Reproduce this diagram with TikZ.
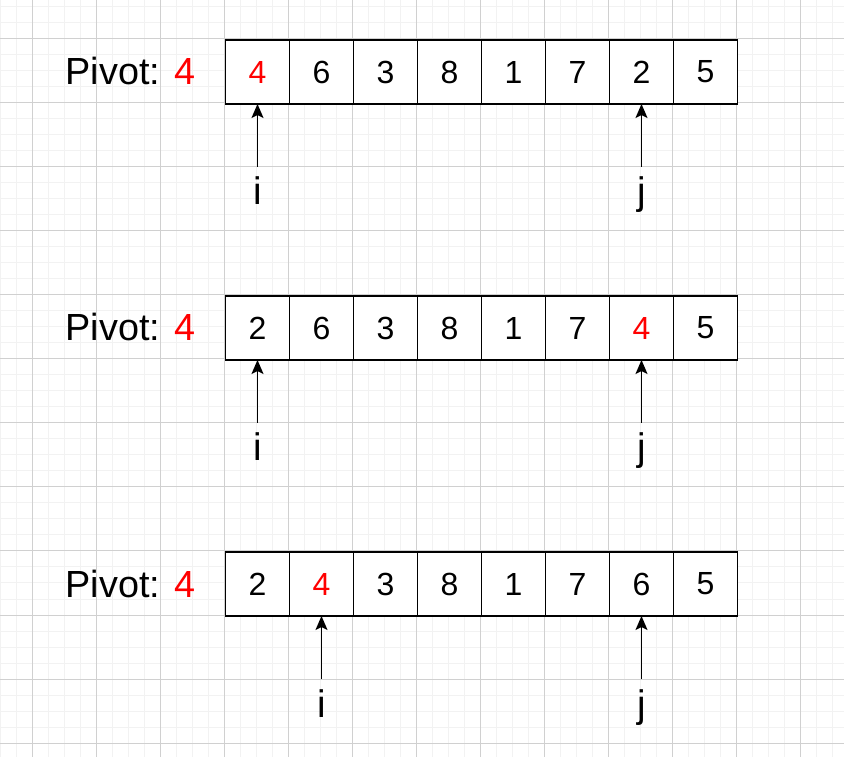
\documentclass[tikz,border=0pt]{standalone}
\usepackage{fontspec}
\setmainfont{Liberation Sans}
\usepackage{tikz}
\usetikzlibrary{arrows.meta}
\usetikzlibrary{positioning}
\definecolor{pivotred}{HTML}{FF0000}
\definecolor{gridmajor}{HTML}{D0D0D0}
\definecolor{gridminor}{HTML}{F2F2F2}
\tikzset{
  arraycell/.style={draw, line width=1.6pt, fill=white, minimum size=64pt, inner sep=0pt, outer sep=0pt, font=\fontsize{32}{38}\selectfont},
  pivotcell/.style={arraycell, text=pivotred},
  pivotlabel/.style={anchor=base west, inner sep=0pt, font=\fontsize{37.8}{46}\selectfont},
  ptrlabel/.style={anchor=base, inner sep=0pt, text height=38pt, font=\fontsize{38.4}{46}\selectfont},
  ptrarrow/.style={-{Stealth[length=14pt, width=12pt, inset=3pt]}, line width=1.6pt}
}

\begin{document}
\begin{tikzpicture}[x=1pt, y=1pt]
  \useasboundingbox (0,0) rectangle (844,756);
  \fill[white] (0,0) rectangle (844,756);
  \begin{scope}
    \clip (0,0) rectangle (844,756);
    \draw[gridminor, line width=1pt, step=16pt, shift={(0,13)}] (-16,-16) grid (860,760);
    \draw[gridmajor, line width=1pt, step=64pt, shift={(32,13)}] (-64,-64) grid (860,760);
  \end{scope}

  % first row
  \node[pivotlabel] (p1) at (65.5,671) {Pivot: \textcolor{pivotred}{4}};
  \node[pivotcell] (a1) at (257.5,684) {4};
  \node[arraycell, right=0pt of a1] (a2) {6};
  \node[arraycell, right=0pt of a2] (a3) {3};
  \node[arraycell, right=0pt of a3] (a4) {8};
  \node[arraycell, right=0pt of a4] (a5) {1};
  \node[arraycell, right=0pt of a5] (a6) {7};
  \node[arraycell, right=0pt of a6] (a7) {2};
  \node[arraycell, right=0pt of a7] (a8) {5};
  \node[ptrlabel] (i1) at (257.5,551) {i};
  \node[ptrlabel] (j1) at (641.5,551) {j};
  \draw[ptrarrow] (i1.north) -- (a1.south);
  \draw[ptrarrow] (j1.north) -- (a7.south);

  % second row
  \node[pivotlabel] (p2) at (65.5,415) {Pivot: \textcolor{pivotred}{4}};
  \node[arraycell] (b1) at (257.5,428) {2};
  \node[arraycell, right=0pt of b1] (b2) {6};
  \node[arraycell, right=0pt of b2] (b3) {3};
  \node[arraycell, right=0pt of b3] (b4) {8};
  \node[arraycell, right=0pt of b4] (b5) {1};
  \node[arraycell, right=0pt of b5] (b6) {7};
  \node[pivotcell, right=0pt of b6] (b7) {4};
  \node[arraycell, right=0pt of b7] (b8) {5};
  \node[ptrlabel] (i2) at (257.5,295) {i};
  \node[ptrlabel] (j2) at (641.5,295) {j};
  \draw[ptrarrow] (i2.north) -- (b1.south);
  \draw[ptrarrow] (j2.north) -- (b7.south);

  % third row
  \node[pivotlabel] (p3) at (65.5,159) {Pivot: \textcolor{pivotred}{4}};
  \node[arraycell] (c1) at (257.5,172) {2};
  \node[pivotcell, right=0pt of c1] (c2) {4};
  \node[arraycell, right=0pt of c2] (c3) {3};
  \node[arraycell, right=0pt of c3] (c4) {8};
  \node[arraycell, right=0pt of c4] (c5) {1};
  \node[arraycell, right=0pt of c5] (c6) {7};
  \node[arraycell, right=0pt of c6] (c7) {6};
  \node[arraycell, right=0pt of c7] (c8) {5};
  \node[ptrlabel] (i3) at (321.5,39) {i};
  \node[ptrlabel] (j3) at (641.5,39) {j};
  \draw[ptrarrow] (i3.north) -- (c2.south);
  \draw[ptrarrow] (j3.north) -- (c7.south);
\end{tikzpicture}
\end{document}
